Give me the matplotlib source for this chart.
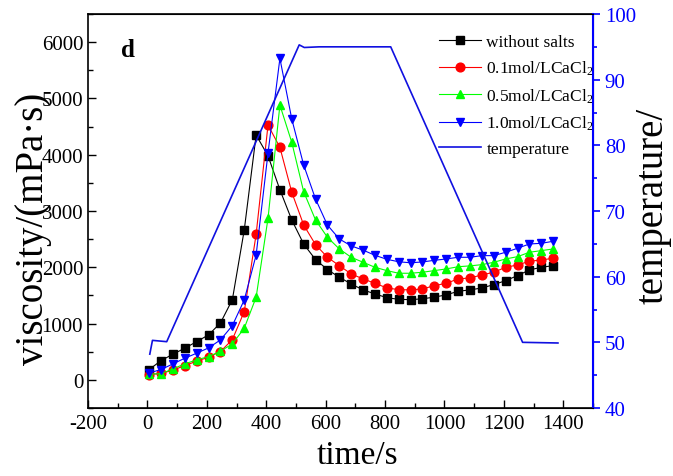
import matplotlib
matplotlib.use("Agg")
import matplotlib.pyplot as plt
import matplotlib.ticker as ticker

plt.rcParams['font.family'] = ['Liberation Serif', 'DejaVu Serif']
plt.rcParams['mathtext.fontset'] = 'custom'
plt.rcParams['mathtext.rm'] = 'Liberation Serif'
plt.rcParams['axes.unicode_minus'] = False

# sampling times of the viscosity curves, s
time = [6, 46, 86, 126, 166, 206, 246, 286, 326, 366, 406, 446, 486, 526, 566,
        606, 646, 686, 726, 766, 806, 846, 886, 926, 966, 1006, 1046, 1086,
        1126, 1166, 1206, 1246, 1286, 1326, 1366]

# viscosity, mPa·s
no_salt = [183, 343, 456, 563, 680, 799, 1012, 1426, 2663, 4349, 3980, 3378,
           2840, 2414, 2136, 1960, 1823, 1704, 1598, 1527, 1460, 1430, 1425,
           1440, 1470, 1510, 1574, 1598, 1633, 1692, 1763, 1852, 1953, 2000, 2029]
cacl_01 = [95, 115, 172, 254, 332, 403, 503, 716, 1213, 2587, 4527, 4131, 3332,
           2752, 2402, 2178, 2029, 1882, 1793, 1716, 1633, 1603, 1598, 1615,
           1674, 1716, 1793, 1811, 1864, 1912, 2000, 2041, 2107, 2130, 2160]
cacl_05 = [100, 110, 195, 284, 355, 414, 509, 639, 918, 1468, 2870, 4882, 4219,
           3343, 2840, 2533, 2326, 2178, 2089, 2000, 1941, 1894, 1894, 1912,
           1941, 1971, 2010, 2025, 2047, 2089, 2148, 2189, 2267, 2296, 2326]
cacl_10 = [124, 183, 284, 385, 474, 568, 710, 964, 1420, 2219, 4030, 5711, 4633,
           3817, 3213, 2750, 2503, 2380, 2305, 2213, 2142, 2098, 2080, 2095,
           2124, 2148, 2178, 2178, 2207, 2207, 2267, 2338, 2414, 2426, 2462]

# temperature programme
temp_time = [8, 17, 65, 511, 528, 578, 819, 1263, 1382]
temp_val = [48.2, 50.3, 50.1, 95.3, 94.9, 95.0, 95.0, 50.0, 49.9]

fig = plt.figure(figsize=(6.73, 4.77), dpi=100)
ax = fig.add_axes([88 / 673, 1 - 409 / 477, 505 / 673, 394 / 477])
ax2 = ax.twinx()

ms = 6.3
l1, = ax.plot(time, no_salt, color='black', marker='s', ms=ms, lw=0.8, label='without salts')
l2, = ax.plot(time, cacl_01, color='red', marker='o', ms=ms, lw=0.8,
              label='0.1mol/LCaCl$\\mathregular{_2}$')
l3, = ax.plot(time, cacl_05, color='#00ff00', marker='^', ms=ms, lw=0.8,
              label='0.5mol/LCaCl$\\mathregular{_2}$')
l4, = ax.plot(time, cacl_10, color='blue', marker='v', ms=ms, lw=0.8,
              label='1.0mol/LCaCl$\\mathregular{_2}$')
l5, = ax2.plot(temp_time, temp_val, color='#1010e0', lw=1.2, label='temperature')

ax.set_xlim(-200, 1500)
ax.set_ylim(-500, 6500)
ax2.set_ylim(40, 100)

ax.xaxis.set_major_locator(ticker.MultipleLocator(200))
ax.xaxis.set_minor_locator(ticker.MultipleLocator(100))
ax.yaxis.set_major_locator(ticker.MultipleLocator(1000))
ax.yaxis.set_minor_locator(ticker.MultipleLocator(500))
ax2.yaxis.set_major_locator(ticker.MultipleLocator(10))
ax2.yaxis.set_minor_locator(ticker.MultipleLocator(5))

ax.tick_params(axis='both', which='both', direction='in', labelsize=15, width=1.0)
ax.tick_params(axis='both', which='major', length=6)
ax.tick_params(axis='both', which='minor', length=3.5)
ax2.tick_params(axis='y', which='both', direction='out', colors='blue', labelsize=15, width=1.2)
ax2.tick_params(axis='y', which='major', length=5)
ax2.tick_params(axis='y', which='minor', length=3)
ax.tick_params(axis='x', pad=4)

for s in ['left', 'bottom', 'top']:
    ax.spines[s].set_linewidth(1.2)
ax2.spines['right'].set_color('blue')
ax2.spines['right'].set_linewidth(1.5)
ax2.spines['left'].set_visible(False)

ax.set_xlabel('time/s', fontsize=24)
ax.set_ylabel('viscosity/(mPa·s)', fontsize=28)
ax2.set_ylabel('temperature/', fontsize=28)
ax.xaxis.set_label_coords(0.534, -0.08)
ax.yaxis.set_label_coords(-0.072, 0.457)
ax2.yaxis.set_label_coords(1.082, 0.515)

ax.text(0.065, 0.893, 'd', transform=ax.transAxes, fontsize=18, fontweight='bold')

ax.legend(handles=[l1, l2, l3, l4, l5], loc='upper left', bbox_to_anchor=(0.665, 0.99),
          frameon=False, fontsize=12.5, handlelength=2.4, labelspacing=0.52,
          handletextpad=0.3)

fig.savefig('out.png', dpi=100)
